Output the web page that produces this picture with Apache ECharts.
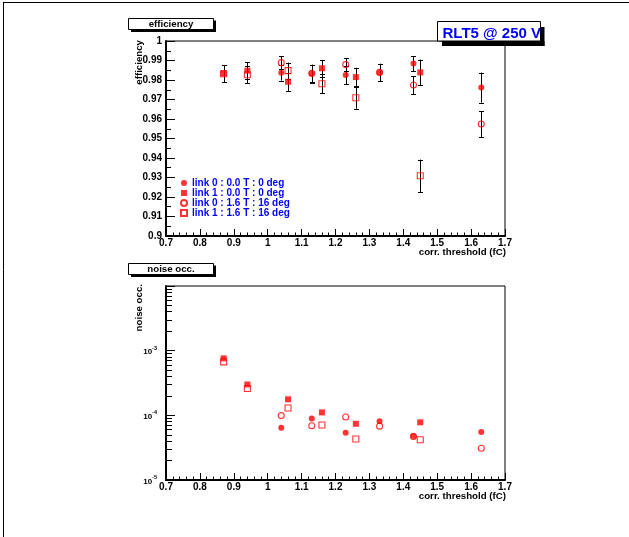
<!DOCTYPE html>
<html>
<head>
<meta charset="utf-8">
<script src="https://cdn.jsdelivr.net/npm/echarts@6/dist/echarts.min.js"></script>
<style>
html,body{margin:0;padding:0;background:#fff;}
#chart{width:629px;height:537px;}
</style>
</head>
<body>
<div id="chart"></div>
<script>
// ---- data ----
const seriesNames = ['link 0 : 0.0 T : 0 deg', 'link 1 : 0.0 T : 0 deg', 'link 0 : 1.6 T : 16 deg', 'link 1 : 1.6 T : 16 deg'];
const xLink0 = [1.04, 1.13, 1.23, 1.33, 1.43, 1.63];
const xLink1 = [0.87, 0.94, 1.06, 1.16, 1.26, 1.45];

const effL0T0 = [0.9837, 0.9832, 0.9826, 0.9839, 0.9884, 0.9761];
const errL0T0 = [0.0040, 0.0045, 0.0048, 0.0044, 0.0039, 0.0077];
const effL1T0 = [0.9834, 0.9848, 0.9791, 0.9860, 0.9815, 0.9839];
const errL1T0 = [0.0043, 0.0043, 0.0047, 0.0043, 0.0048, 0.0066];
const effL0T16 = [0.9889, 0.9834, 0.9879, 0.9839, 0.9774, 0.9574];
const errL0T16 = [0.0034, 0.0045, 0.0034, 0.0044, 0.0046, 0.0066];
const effL1T16 = [0.9832, 0.9827, 0.9848, 0.9781, 0.9709, 0.9309];
const errL1T16 = [0.0043, 0.0043, 0.0041, 0.0049, 0.0056, 0.0083];

const noiseL0T0 = [6.4e-5, 8.9e-5, 5.4e-5, 8.1e-5, 4.8e-5, 5.5e-5];
const noiseL1T0 = [7.6e-4, 3.0e-4, 1.77e-4, 1.11e-4, 7.4e-5, 7.8e-5];
const noiseL0T16 = [9.9e-5, 6.9e-5, 9.4e-5, 6.8e-5, 4.7e-5, 3.1e-5];
const noiseL1T16 = [6.7e-4, 2.6e-4, 1.30e-4, 7.1e-5, 4.3e-5, 4.2e-5];

// ---- styling ----
const FONT = '"Liberation Sans", Arial, Helvetica, sans-serif';
const RED = '#ff0000';
const BLUE = '#0000ff';

const markerStyles = [
  {symbol: 'circle', symbolSize: 6, itemStyle: {color: RED, borderWidth: 0}},
  {symbol: 'rect', symbolSize: 6, itemStyle: {color: RED, borderWidth: 0}},
  {symbol: 'circle', symbolSize: 6, itemStyle: {color: 'rgba(255,255,255,0)', borderColor: RED, borderWidth: 1.1}},
  {symbol: 'rect', symbolSize: 6, itemStyle: {color: 'rgba(255,255,255,0)', borderColor: RED, borderWidth: 1.1}}
];

const effSets = [
  [xLink0, effL0T0, errL0T0],
  [xLink1, effL1T0, errL1T0],
  [xLink0, effL0T16, errL0T16],
  [xLink1, effL1T16, errL1T16]
];
const noiseSets = [
  [xLink0, noiseL0T0],
  [xLink1, noiseL1T0],
  [xLink0, noiseL0T16],
  [xLink1, noiseL1T16]
];

function renderErr(params, api) {
  const x = api.value(0), lo = api.value(1), hi = api.value(2);
  const p1 = api.coord([x, hi]);
  const p2 = api.coord([x, lo]);
  const cx = Math.round(p1[0]) + 0.5;
  const w = 2.5;
  const st = {stroke: '#000', lineWidth: 1};
  return {
    type: 'group',
    children: [
      {type: 'line', shape: {x1: cx, y1: p1[1], x2: cx, y2: p2[1]}, style: st},
      {type: 'line', shape: {x1: cx - w, y1: Math.round(p1[1]) + 0.5, x2: cx + w, y2: Math.round(p1[1]) + 0.5}, style: st},
      {type: 'line', shape: {x1: cx - w, y1: Math.round(p2[1]) + 0.5, x2: cx + w, y2: Math.round(p2[1]) + 0.5}, style: st}
    ]
  };
}

const series = [];
effSets.forEach((s, i) => {
  const [xs, ys, es] = s;
  series.push({
    type: 'custom', xAxisIndex: 0, yAxisIndex: 0, z: 1, silent: true,
    renderItem: renderErr,
    data: xs.map((x, k) => [x, ys[k] - es[k], ys[k] + es[k]]),
    clip: false
  });
});
effSets.forEach((s, i) => {
  const [xs, ys] = s;
  series.push(Object.assign({
    type: 'scatter', name: seriesNames[i], xAxisIndex: 0, yAxisIndex: 0, z: 3,
    data: xs.map((x, k) => [x, ys[k]])
  }, markerStyles[i]));
});
noiseSets.forEach((s, i) => {
  const [xs, ys] = s;
  series.push(Object.assign({
    type: 'scatter', name: seriesNames[i], xAxisIndex: 1, yAxisIndex: 1, z: 3,
    data: xs.map((x, k) => [x, ys[k]])
  }, markerStyles[i]));
});

const labelStyle = {color: '#000', fontFamily: FONT, fontWeight: 'bold', fontSize: 10};
function xAxisCfg(gi) {
  return {
    gridIndex: gi, type: 'value', min: 0.7, max: 1.7, interval: 0.1,
    axisLine: {show: true, onZero: false, lineStyle: {color: '#000', width: 2}},
    axisTick: {show: true, inside: true, length: 7, lineStyle: {color: '#000', width: 1}},
    minorTick: {show: true, splitNumber: 5, length: 3.5, lineStyle: {color: '#000', width: 1}},
    axisLabel: Object.assign({margin: 2}, labelStyle),
    splitLine: {show: false}, minorSplitLine: {show: false}
  };
}

const option = {
  animation: false,
  backgroundColor: '#fff',
  grid: [
    {left: 166, top: 41, width: 339, height: 195, show: true, borderColor: '#000', borderWidth: 1},
    {left: 166, top: 286, width: 339, height: 194, show: true, borderColor: '#000', borderWidth: 1}
  ],
  xAxis: [xAxisCfg(0), xAxisCfg(1)],
  yAxis: [
    {
      gridIndex: 0, type: 'value', min: 0.9, max: 1, interval: 0.01,
      axisLine: {show: true, onZero: false, lineStyle: {color: '#000', width: 2}},
      axisTick: {show: true, inside: true, length: 9, lineStyle: {color: '#000', width: 1}},
      minorTick: {show: true, splitNumber: 2, length: 5, lineStyle: {color: '#000', width: 1}},
      axisLabel: Object.assign({margin: 4}, labelStyle),
      splitLine: {show: false}
    },
    {
      gridIndex: 1, type: 'log', logBase: 10, min: 1e-5, max: 1e-2,
      axisLine: {show: true, onZero: false, lineStyle: {color: '#000', width: 2}},
      axisTick: {show: true, inside: true, length: 9, lineStyle: {color: '#000', width: 1}},
      minorTick: {show: true, splitNumber: 9, length: 6, lineStyle: {color: '#000', width: 1}},
      axisLabel: {
        margin: 9,
        formatter: function (v) {
          const e = Math.round(Math.log10(v));
          if (e >= -2) return '';
          return '{b|10}{s|' + e + '}';
        },
        rich: {
          b: {fontFamily: FONT, fontWeight: 'bold', fontSize: 8, color: '#000', lineHeight: 11, verticalAlign: 'bottom'},
          s: {fontFamily: FONT, fontWeight: 'bold', fontSize: 5.5, color: '#000', lineHeight: 11, verticalAlign: 'top', padding: [0, 0, 5, 0]}
        }
      },
      splitLine: {show: false}
    }
  ],
  legend: {
    orient: 'vertical', left: 180, top: 178, padding: 0, itemGap: 0,
    itemWidth: 6, itemHeight: 6,
    data: seriesNames,
    textStyle: {color: BLUE, fontFamily: FONT, fontWeight: 'bold', fontSize: 10, lineHeight: 10}
  },
  series: series,
  graphic: [
    // pad frame
    {type: 'line', z: 100, shape: {x1: 3, y1: 2.5, x2: 629, y2: 2.5}, style: {stroke: '#000', lineWidth: 1}},
    {type: 'line', z: 100, shape: {x1: 3.5, y1: 2, x2: 3.5, y2: 537}, style: {stroke: '#000', lineWidth: 1}},
    // efficiency title box
    {type: 'rect', z: 100, shape: {x: 131, y: 20.5, width: 85, height: 11.5}, style: {fill: '#000'}},
    {type: 'rect', z: 101, shape: {x: 128.5, y: 18.5, width: 85, height: 11}, style: {fill: '#fff', stroke: '#000', lineWidth: 1}},
    {type: 'text', z: 102, x: 171, y: 24.5, style: {text: 'efficiency', fill: '#000', font: 'bold 9.7px ' + FONT, textAlign: 'center', textVerticalAlign: 'middle'}},
    // noise title box
    {type: 'rect', z: 100, shape: {x: 131, y: 265.5, width: 85, height: 11.5}, style: {fill: '#000'}},
    {type: 'rect', z: 101, shape: {x: 128.5, y: 263.5, width: 85, height: 11}, style: {fill: '#fff', stroke: '#000', lineWidth: 1}},
    {type: 'text', z: 102, x: 171, y: 269.5, style: {text: 'noise occ.', fill: '#000', font: 'bold 9.7px ' + FONT, textAlign: 'center', textVerticalAlign: 'middle'}},
    // RLT5 box
    {type: 'rect', z: 101, shape: {x: 437.5, y: 21.5, width: 103, height: 19.5}, style: {fill: '#fff', stroke: '#000', lineWidth: 1}},
    {type: 'text', z: 102, x: 442.5, y: 33.5, style: {text: 'RLT5 @ 250 V', fill: BLUE, font: 'bold 15px ' + FONT, textAlign: 'left', textVerticalAlign: 'middle'}},
    {type: 'rect', z: 103, shape: {x: 540, y: 27, width: 4.5, height: 19}, style: {fill: '#000'}},
    {type: 'rect', z: 103, shape: {x: 442, y: 41, width: 102.5, height: 5}, style: {fill: '#000'}},
    // axis titles
    {type: 'text', z: 102, x: 139, y: 40, rotation: Math.PI / 2, style: {text: 'efficiency', fill: '#000', font: 'bold 9.7px ' + FONT, textAlign: 'right', textVerticalAlign: 'middle'}},
    {type: 'text', z: 102, x: 139, y: 284, rotation: Math.PI / 2, style: {text: 'noise occ.', fill: '#000', font: 'bold 9.7px ' + FONT, textAlign: 'right', textVerticalAlign: 'middle'}},
    {type: 'text', z: 102, x: 506, y: 252, style: {text: 'corr. threshold (fC)', fill: '#000', font: 'bold 9.7px ' + FONT, textAlign: 'right', textVerticalAlign: 'middle'}},
    {type: 'text', z: 102, x: 506, y: 496.5, style: {text: 'corr. threshold (fC)', fill: '#000', font: 'bold 9.7px ' + FONT, textAlign: 'right', textVerticalAlign: 'middle'}}
  ]
};

const chart = echarts.init(document.getElementById('chart'), null, {renderer: 'canvas'});
chart.setOption(option);
</script>
</body>
</html>
